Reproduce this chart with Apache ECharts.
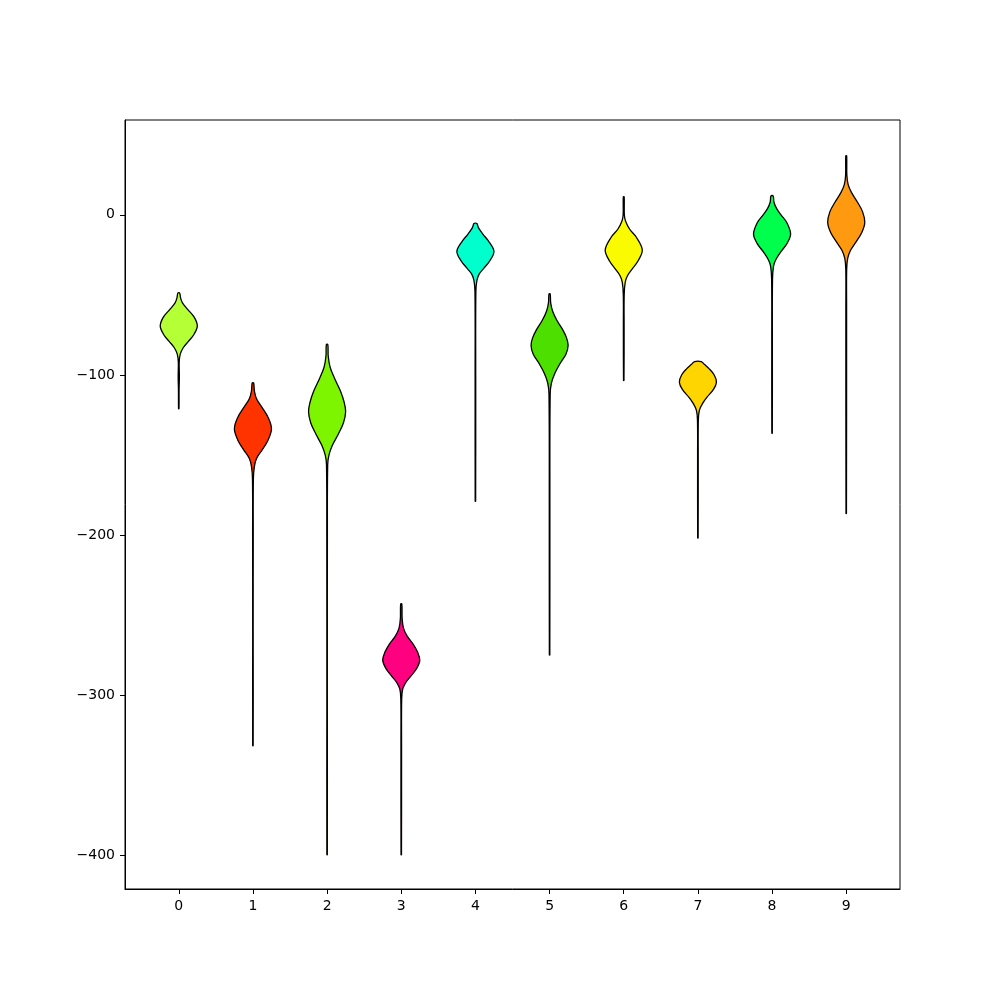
<!DOCTYPE html>
<html>
<head>
<meta charset="utf-8">
<script src="https://cdn.jsdelivr.net/npm/echarts@6/dist/echarts.min.js"></script>
<style>
html, body { margin: 0; padding: 0; background: #fff; }
#main { width: 1000px; height: 1000px; }
</style>
</head>
<body>
<div id="main"></div>
<script>
// violin positions and fill colours
var positions = [0, 1, 2, 3, 4, 5, 6, 7, 8, 9];
var colors = ['#b4ff36', '#ff3300', '#7ef500', '#ff0080', '#00ffcc',
              '#4ddf00', '#fbfb00', '#ffd500', '#00ff4d', '#ff9a10'];
var xTicks = [0, 1, 2, 3, 4, 5, 6, 7, 8, 9];
var yTicks = [-400, -300, -200, -100, 0];

// density outline of each violin: [value, half width]
var violin0 = [[-48.8, 0.012], [-52, 0.025], [-55, 0.05], [-59, 0.12], [-64, 0.21], [-69.5, 0.25],
               [-75, 0.2], [-79, 0.13], [-83, 0.06], [-87, 0.02], [-92, 0.006], [-101, 0.008],
               [-110, 0.004], [-121, 0.003]];
var violin1 = [[-105, 0.01], [-110, 0.02], [-115, 0.05], [-120, 0.12], [-126, 0.2], [-133.5, 0.25],
               [-141, 0.2], [-147, 0.12], [-152, 0.05], [-157, 0.02], [-165, 0.006], [-200, 0.004],
               [-260, 0.003], [-331.5, 0.003]];
var violin2 = [[-81, 0.01], [-88, 0.015], [-95, 0.04], [-102, 0.1], [-110, 0.18], [-117, 0.23],
               [-123, 0.25], [-130, 0.22], [-137, 0.15], [-144, 0.07], [-150, 0.025], [-156, 0.008],
               [-200, 0.004], [-300, 0.003], [-399.5, 0.003]];
var violin3 = [[-243, 0.008], [-252, 0.012], [-258, 0.03], [-263, 0.08], [-268, 0.16], [-273, 0.22],
               [-278, 0.25], [-283, 0.21], [-288, 0.13], [-292, 0.06], [-296, 0.02], [-302, 0.006],
               [-330, 0.004], [-399.5, 0.003]];
var violin4 = [[-5.4, 0.02], [-8, 0.04], [-12, 0.1], [-16, 0.17], [-22.8, 0.25], [-29, 0.19],
               [-33, 0.12], [-37, 0.05], [-41, 0.02], [-48, 0.006], [-100, 0.004], [-178.8, 0.003]];
var violin5 = [[-49.4, 0.008], [-55, 0.015], [-60, 0.04], [-66, 0.1], [-72, 0.18], [-77, 0.23],
               [-81.6, 0.25], [-87, 0.22], [-93, 0.14], [-99, 0.07], [-105, 0.025], [-112, 0.008],
               [-180, 0.004], [-274.8, 0.003]];
var violin6 = [[11.2, 0.006], [0, 0.008], [-4, 0.025], [-9, 0.08], [-14, 0.17], [-22, 0.25],
               [-29, 0.19], [-34, 0.11], [-38, 0.05], [-42, 0.02], [-50, 0.006], [-70, 0.005],
               [-103.4, 0.003]];
var violin7 = [[-91.6, 0.045], [-93.5, 0.09], [-96, 0.15], [-100, 0.22], [-104.5, 0.25], [-109, 0.21],
               [-114, 0.12], [-118, 0.06], [-122, 0.02], [-128, 0.006], [-150, 0.004], [-201.7, 0.003]];
var violin8 = [[11.8, 0.015], [8, 0.025], [4, 0.06], [0, 0.12], [-5, 0.2], [-12, 0.25],
               [-18, 0.2], [-23, 0.12], [-28, 0.05], [-32, 0.02], [-40, 0.006], [-80, 0.004],
               [-136.4, 0.003]];
var violin9 = [[36.8, 0.006], [25, 0.008], [19, 0.025], [14, 0.07], [8, 0.15], [2, 0.22],
               [-4.8, 0.25], [-11, 0.21], [-17, 0.13], [-22, 0.06], [-27, 0.02], [-34, 0.006],
               [-60, 0.005], [-186.5, 0.003]];
var profiles = [violin0, violin1, violin2, violin3, violin4, violin5, violin6, violin7, violin8, violin9];

var myChart = echarts.init(document.getElementById('main'));

var labelStyle = {
    color: '#000',
    fontFamily: 'DejaVu Sans',
    fontSize: 14
};

function renderViolin(params, api) {
    var i = params.dataIndex;
    var x = api.value(0);
    var knots = profiles[i];
    var right = knots.map(function (k) { return api.coord([x + k[1], k[0]]); });
    var left = knots.slice().reverse().map(function (k) { return api.coord([x - k[1], k[0]]); });
    return {
        type: 'polygon',
        shape: { points: right.concat(left), smooth: 0.35 },
        style: { fill: colors[i], stroke: '#000', lineWidth: 1.3, lineJoin: 'round' }
    };
}

myChart.setOption({
    animation: false,
    grid: {
        left: 125, right: 100, top: 120, bottom: 111,
        show: true, borderColor: '#000', borderWidth: 1, backgroundColor: 'transparent'
    },
    xAxis: {
        type: 'value',
        min: -0.725,
        max: 9.725,
        axisLine: { onZero: false, lineStyle: { color: '#000', width: 1 } },
        axisTick: { customValues: xTicks, length: 5, lineStyle: { color: '#000' } },
        axisLabel: Object.assign({ customValues: xTicks, margin: 10 }, labelStyle),
        splitLine: { show: false }
    },
    yAxis: {
        type: 'value',
        min: -420.9,
        max: 59.2,
        axisLine: { show: true, onZero: false, lineStyle: { color: '#000', width: 1 } },
        axisTick: { show: true, customValues: yTicks, length: 5, lineStyle: { color: '#000' } },
        axisLabel: Object.assign({
            customValues: yTicks,
            margin: 10,
            formatter: function (v) { return String(v).replace('-', '\u2212'); }
        }, labelStyle),
        splitLine: { show: false }
    },
    series: [{
        type: 'custom',
        renderItem: renderViolin,
        encode: { x: 0, y: 1 },
        data: positions.map(function (p, i) { return [p, profiles[i][0][0]]; })
    }]
});
</script>
</body>
</html>
